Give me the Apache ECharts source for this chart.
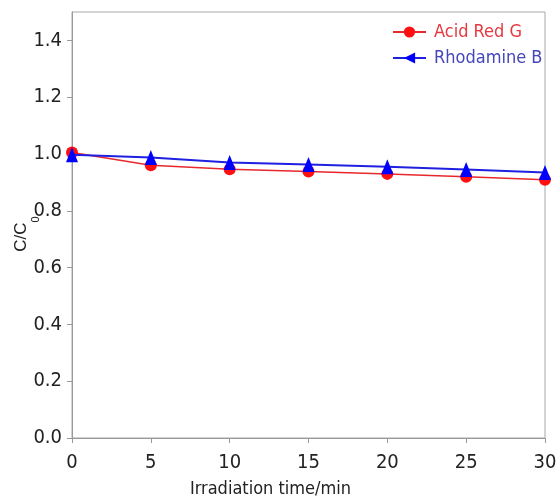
<!DOCTYPE html>
<html>
<head>
<meta charset="utf-8">
<script src="https://cdn.jsdelivr.net/npm/echarts@6/dist/echarts.min.js"></script>
<style>
  html, body { margin: 0; padding: 0; background: #fff; }
  #chart { width: 558px; height: 498px; }
</style>
</head>
<body>
<div id="chart"></div>
<script>
// Irradiation time (min)
const times = [0, 5, 10, 15, 20, 25, 30];
// Relative concentration C/C0 for each dye
const acidRedG = [1.005, 0.960, 0.946, 0.938, 0.930, 0.920, 0.909];
const rhodamineB = [0.997, 0.988, 0.970, 0.963, 0.955, 0.945, 0.935];
// Tick values on the concentration axis
const yTicks = [0, 0.2, 0.4, 0.6, 0.8, 1.0, 1.2, 1.4];
const seriesNames = ['Acid Red G', 'Rhodamine B'];

const narrow = '"DejaVu Sans Condensed", "Liberation Sans", sans-serif';
const plain = '"Liberation Sans", Arial, sans-serif';

const chart = echarts.init(document.getElementById('chart'), null, { renderer: 'canvas' });

chart.setOption({
  animation: false,
  backgroundColor: '#ffffff',
  grid: {
    left: 72, right: 13, top: 12, bottom: 60,
    outerBoundsMode: 'none',
    containLabel: false,
    show: true, borderColor: '#a8a8a8', borderWidth: 1
  },
  legend: {
    orient: 'vertical',
    left: 392,
    top: 23,
    padding: 0,
    itemWidth: 33,
    itemHeight: 14,
    itemGap: 8,
    textStyle: { fontFamily: narrow, fontSize: 18, padding: [0, 0, 0, 3] },
    data: [
      { name: seriesNames[0], textStyle: { color: '#e5383f' } },
      { name: seriesNames[1], textStyle: { color: '#4446bb' }, symbolRotate: 90 }
    ]
  },
  xAxis: {
    type: 'value',
    min: 0, max: 30, interval: 5,
    name: 'Irradiation time/min',
    nameLocation: 'middle',
    nameGap: 42,
    nameMoveOverlap: false,
    nameTextStyle: { fontFamily: narrow, fontSize: 18, color: '#222', padding: [0, 76, 0, 0] },
    axisLine: { lineStyle: { color: '#999', width: 1 } },
    axisTick: { show: true, inside: false, length: 5, lineStyle: { color: '#999' } },
    axisLabel: { fontFamily: narrow, fontSize: 20, color: '#222', margin: 15 },
    splitLine: { show: false }
  },
  yAxis: {
    type: 'value',
    min: 0, max: 1.5, interval: 0.2,
    name: '{a|C/C}{b|0}',
    nameLocation: 'middle',
    nameGap: 42,
    nameRotate: 90,
    nameMoveOverlap: false,
    nameTextStyle: {
      padding: [0, 18, 0, 0],
      rich: {
        a: { fontFamily: plain, fontSize: 17, lineHeight: 17, color: '#222', verticalAlign: 'top' },
        b: { fontFamily: plain, fontSize: 11, lineHeight: 11, color: '#222', verticalAlign: 'top', padding: [17, 0, 0, 0] }
      }
    },
    axisLine: { show: true, lineStyle: { color: '#999', width: 1 } },
    axisTick: { show: true, inside: false, length: 5, customValues: yTicks, lineStyle: { color: '#999' } },
    axisLabel: {
      fontFamily: narrow, fontSize: 20, color: '#222', margin: 10,
      customValues: yTicks,
      formatter: v => v.toFixed(1)
    },
    splitLine: { show: false }
  },
  series: [
    {
      name: seriesNames[0],
      type: 'line',
      data: times.map((t, i) => [t, acidRedG[i]]),
      symbol: 'circle',
      symbolSize: 12,
      clip: false,
      itemStyle: { color: '#ff1010' },
      lineStyle: { color: '#e8282d', width: 1.5 },
      z: 2
    },
    {
      name: seriesNames[1],
      type: 'line',
      data: times.map((t, i) => [t, rhodamineB[i]]),
      symbol: 'triangle',
      symbolSize: [12, 15],
      clip: false,
      itemStyle: { color: '#0000ff' },
      lineStyle: { color: '#2020e0', width: 2 },
      z: 3
    }
  ]
});
</script>
</body>
</html>
